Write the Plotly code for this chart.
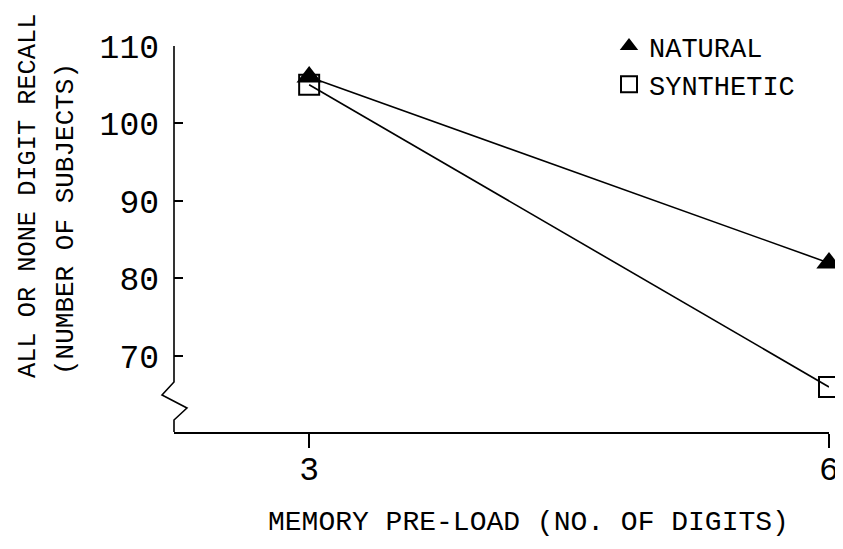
import plotly.graph_objects as go

preload = [3, 6]
natural = [106, 82]
synthetic = [105, 66]
x_ticks = [3, 6]
y_ticks = [70, 80, 90, 100, 110]

FONT = "Liberation Mono"
OFF = 8  # page body margin
W, H = 843 - OFF, 549 - OFF
# plot area in reference pixels
PX0, PX1, PY0, PY1 = 174, 829, 46, 432
L, R, T, B = PX0 - OFF, 843 - PX1, PY0 - OFF, 549 - PY1
pw = PX1 - PX0
ph = PY1 - PY0
xr = [2.22, 6.0]
yr = [60.19, 110]

fig = go.Figure()
for name, vals, mk in [
    ("NATURAL", natural, dict(symbol="triangle-up", size=22, color="black")),
    ("SYNTHETIC", synthetic, dict(symbol="square-open", size=20, color="black",
                                  line=dict(width=2, color="black"))),
]:
    fig.add_trace(go.Scatter(
        x=preload, y=vals, mode="lines", showlegend=False,
        line=dict(color="black", width=1.6), cliponaxis=False, hoverinfo="skip",
    ))
    fig.add_trace(go.Scatter(
        x=preload, y=vals, name=name, mode="markers",
        marker=mk, cliponaxis=False,
    ))


def px_x(px):
    return (px - PX0) / pw


def px_y(py):
    return (PY1 - py) / ph


def pix_to_y(py):
    return yr[1] - (py - PY0) / ph * (yr[1] - yr[0])


# broken y axis line with zigzag
pts = [(174, 46), (174, 382), (162, 395), (187, 408), (174, 420), (174, 432)]
path = ""
for i, (px, py) in enumerate(pts):
    path += ("M" if i == 0 else " L") + f" {px_x(px):.4f},{pix_to_y(py):.3f}"
fig.add_shape(type="path", path=path, xref="paper", yref="y",
              line=dict(color="black", width=1.6))

fig.add_annotation(text="ALL OR NONE DIGIT RECALL", textangle=-90,
                   xref="paper", yref="paper", x=px_x(28), y=px_y(380),
                   xanchor="center", yanchor="bottom", showarrow=False,
                   font=dict(family=FONT, size=25.3, color="black"))
fig.add_annotation(text="(NUMBER OF SUBJECTS)", textangle=-90,
                   xref="paper", yref="paper", x=px_x(66), y=px_y(377),
                   xanchor="center", yanchor="bottom", showarrow=False,
                   font=dict(family=FONT, size=26, color="black"))
fig.add_annotation(text="MEMORY PRE-LOAD (NO. OF DIGITS)",
                   xref="paper", yref="paper", x=px_x(528), y=px_y(522),
                   xanchor="center", yanchor="middle", showarrow=False,
                   font=dict(family=FONT, size=28, color="black"))

fig.update_layout(
    width=W, height=H,
    margin=dict(l=L, r=R, t=T, b=B, autoexpand=False),
    paper_bgcolor="white", plot_bgcolor="white",
    showlegend=True,
    legend=dict(x=px_x(609), y=px_y(22), xanchor="left", yanchor="top",
                font=dict(family=FONT, size=27, color="black"),
                bgcolor="rgba(0,0,0,0)", tracegroupgap=0, itemwidth=30),
    xaxis=dict(range=xr, tickvals=x_ticks, ticktext=[str(v) for v in x_ticks],
               automargin=False,
               showgrid=False, zeroline=False, showline=True, linecolor="black", linewidth=1.6,
               ticks="outside", ticklen=14, tickwidth=1.6, tickcolor="black",
               ticklabelstandoff=-7,
               tickfont=dict(family=FONT, size=33, color="black")),
    yaxis=dict(range=yr, tickvals=y_ticks, ticktext=[str(v) for v in y_ticks],
               automargin=False,
               showgrid=False, zeroline=False, showline=False,
               ticks="inside", ticklen=9, tickwidth=1.6, tickcolor="black",
               ticklabelstandoff=14,
               tickfont=dict(family=FONT, size=33, color="black")),
)

fig.write_html("out.html")
